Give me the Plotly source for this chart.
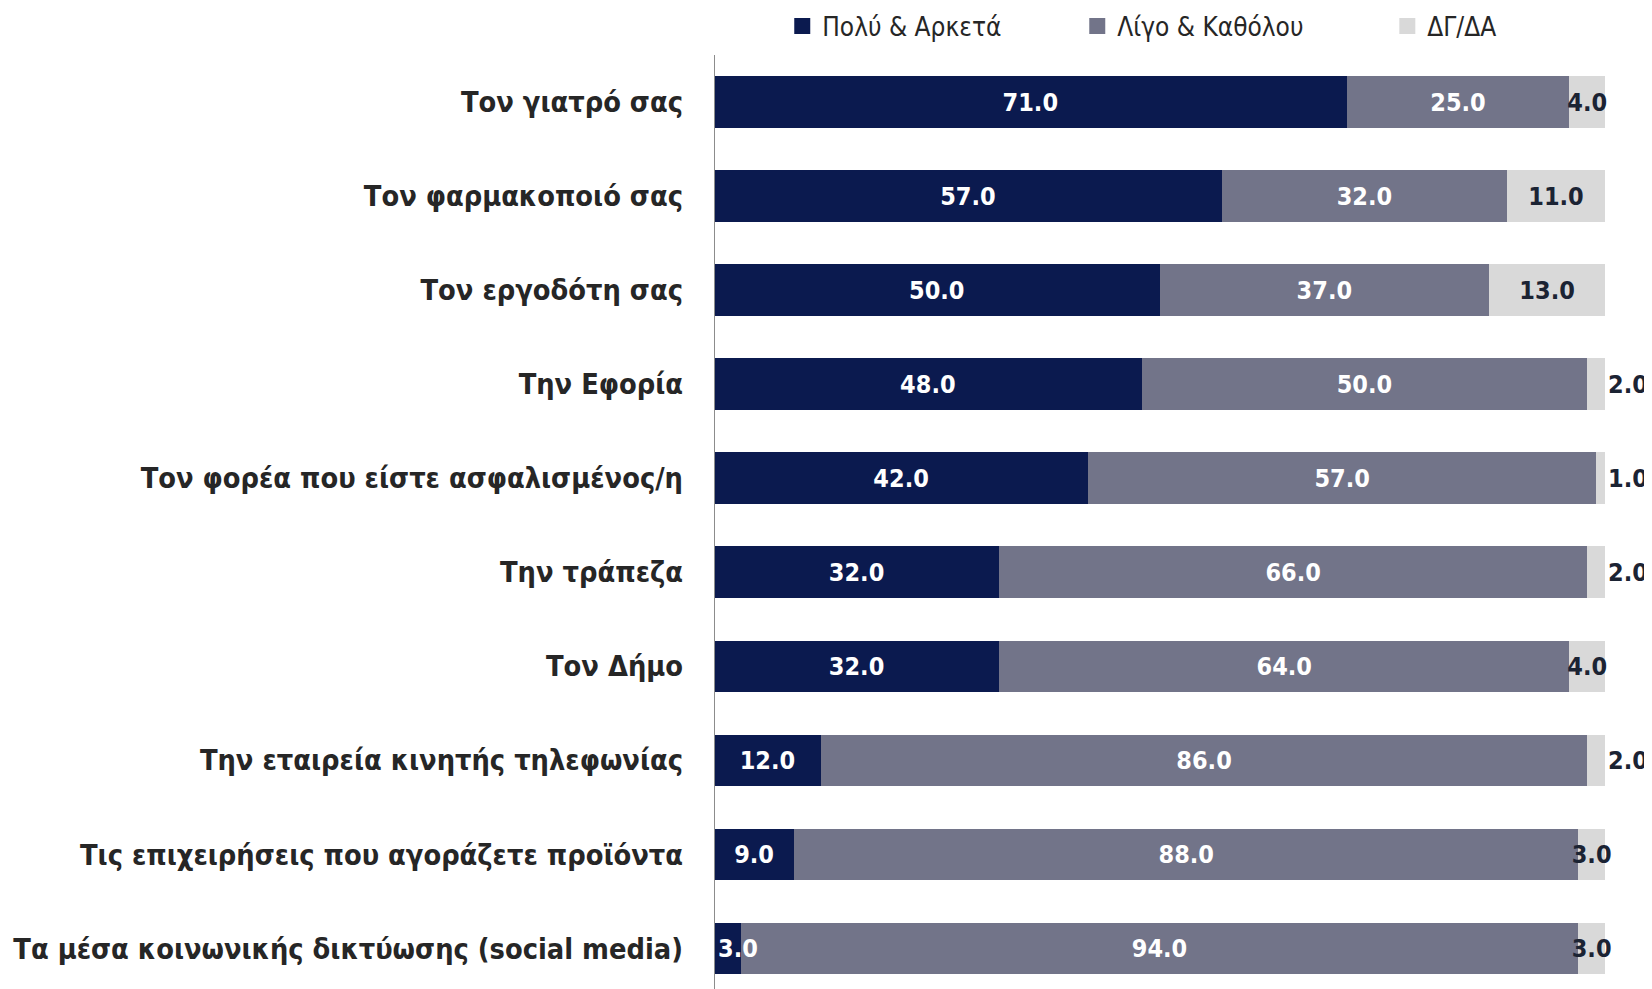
import plotly.graph_objects as go

categories = [
    "Τον γιατρό σας",
    "Τον φαρμακοποιό σας",
    "Τον εργοδότη σας",
    "Την Εφορία",
    "Τον φορέα που είστε ασφαλισμένος/η",
    "Την τράπεζα",
    "Τον Δήμο",
    "Την εταιρεία κινητής τηλεφωνίας",
    "Τις επιχειρήσεις που αγοράζετε προϊόντα",
    "Τα μέσα κοινωνικής δικτύωσης (social media)",
]
polu = [71.0, 57.0, 50.0, 48.0, 42.0, 32.0, 32.0, 12.0, 9.0, 3.0]
ligo = [25.0, 32.0, 37.0, 50.0, 57.0, 66.0, 64.0, 86.0, 88.0, 94.0]
dgda = [4.0, 11.0, 13.0, 2.0, 1.0, 2.0, 4.0, 2.0, 3.0, 3.0]
series_names = ["Πολύ & Αρκετά", "Λίγο & Καθόλου", "ΔΓ/ΔΑ"]
colors = ["#0b1a4f", "#727489", "#d9d9d9"]
text_colors = ["#ffffff", "#ffffff", "#1b2333"]

FONT = "DejaVu Sans Condensed, Liberation Sans Narrow, Roboto, sans-serif"
LBL = 25

fig = go.Figure()
legend_ids = ["legend", "legend2", "legend3"]
annotations = []
for i, (name, vals, col, tcol) in enumerate(zip(series_names, [polu, ligo, dgda], colors, text_colors)):
    texts = [f"{v:.1f}" for v in vals]
    if i == 2:
        pos = ["outside" if v < 3 else "inside" for v in vals]
    else:
        pos = "inside"
    if i == 0:
        # very thin segments: label drawn from the start of the bar
        for j, v in enumerate(vals):
            if v < 5:
                annotations.append(dict(
                    x=0, y=categories[j], xref="x", yref="y", text=texts[j],
                    xanchor="left", xshift=2, showarrow=False,
                    font=dict(family=FONT, size=LBL, color=tcol, weight="bold"),
                ))
                texts[j] = ""
    fig.add_trace(go.Bar(
        y=categories, x=vals, name=name, orientation="h",
        marker=dict(color=col, line=dict(width=0)),
        text=texts,
        textposition=pos, insidetextanchor="middle",
        constraintext="none", textangle=0,
        textfont=dict(family=FONT, size=LBL, color=tcol, weight="bold"),
        outsidetextfont=dict(family=FONT, size=LBL, color=tcol, weight="bold"),
        showlegend=False, cliponaxis=False,
    ))
    # legend proxies with larger square markers
    fig.add_trace(go.Scatter(
        x=[None], y=[None], mode="markers", name=name,
        marker=dict(symbol="square", size=16, color=col),
        showlegend=True, legend=legend_ids[i],
    ))

legend_x = [0.0766, 0.4077, 0.7557]
leg_common = dict(orientation="h", y=1.031, yanchor="middle", xanchor="left",
                  font=dict(family=FONT, size=26, color="#262626"),
                  bgcolor="rgba(0,0,0,0)")

fig.update_layout(
    width=1644, height=981,
    margin=dict(l=706, r=47, t=47, b=0, autoexpand=False),
    barmode="stack", bargap=0.45,
    plot_bgcolor="white", paper_bgcolor="white",
    font=dict(family=FONT, color="#262626"),
    legend=dict(x=legend_x[0], **leg_common),
    legend2=dict(x=legend_x[1], **leg_common),
    legend3=dict(x=legend_x[2], **leg_common),
    xaxis=dict(range=[0, 100], visible=False, showgrid=False, zeroline=False),
    yaxis=dict(
        range=[len(categories) - 0.57, -0.5], showgrid=False, zeroline=False,
        showline=False, automargin=False,
        tickfont=dict(family=FONT, size=28.7, color="#262626", weight="bold"),
        ticks="", ticklabelstandoff=30,
    ),
    annotations=annotations,
    shapes=[dict(type="line", xref="x", yref="paper", x0=0, x1=0, y0=-0.02, y1=1.0,
                 line=dict(color="#8c8c8c", width=2))],
)

fig.write_html("out.html")
